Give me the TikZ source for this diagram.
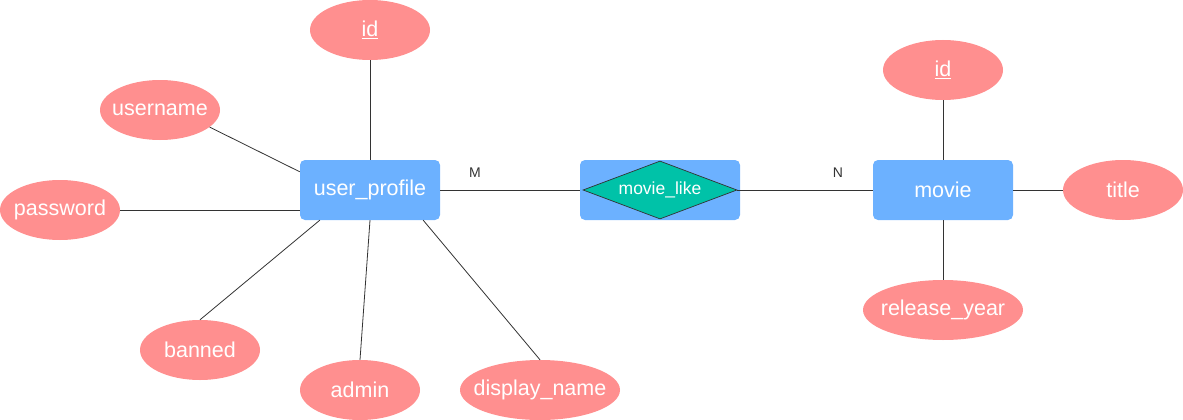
\documentclass[tikz,border=0pt]{standalone}
\usepackage{fontspec}
\setmainfont{Liberation Sans}
\usetikzlibrary{shapes.geometric}
\definecolor{attr}{HTML}{FF8F8F}
\definecolor{ent}{HTML}{6CB1FF}
\definecolor{rel}{HTML}{00C2A8}
\definecolor{ln}{HTML}{333333}
\tikzset{
  attrnode/.style={ellipse, fill=attr, minimum width=120pt, minimum height=60pt, inner xsep=-30pt, inner ysep=0pt, text=white, font=\fontsize{21.5}{24}\selectfont},
  wideattr/.style={attrnode, minimum width=160pt},
  entnode/.style={rectangle, rounded corners=5pt, fill=ent, minimum width=140pt, minimum height=60pt, inner sep=0pt, text=white, font=\fontsize{21.5}{24}\selectfont},
  relbox/.style={rectangle, rounded corners=5pt, fill=ent, minimum width=160pt, minimum height=60pt, inner sep=0pt},
  reldia/.style={diamond, aspect=2.65, fill=rel, draw=ln, line width=0.7pt, minimum width=154pt, minimum height=58pt, inner sep=0pt, text=white, font=\fontsize{17.5}{20}\selectfont},
  conn/.style={draw=ln, line width=0.8pt},
  card/.style={text=ln, font=\fontsize{14}{16}\selectfont, inner sep=0pt}
}
\begin{document}
\begin{tikzpicture}[x=1pt, y=-1pt]
\useasboundingbox (0,0) rectangle (1183,420);
% entities
\node[entnode] (up) at (370,190) {user\_profile};
\node[relbox] (mlbox) at (660,190) {};
\node[reldia] (ml) at (660,190) {movie\_like};
\node[entnode] (mv) at (943,190) {movie};
% user attributes
\node[attrnode] (uid) at (370,30) {\underline{id}};
\node[attrnode] (un) at (160,110) {username};
\node[attrnode] (pw) at (60,210) {password};
\node[attrnode] (bn) at (200,350) {banned};
\node[attrnode] (ad) at (360,390) {admin};
\node[wideattr] (dn) at (540,390) {display\_name};
% movie attributes
\node[attrnode] (mid) at (943,70) {\underline{id}};
\node[attrnode] (ti) at (1123,190) {title};
\node[wideattr] (ry) at (943,310) {release\_year};
% cardinalities
\node[card] (cm) at (475,173) {M};
\node[card] (cn) at (838,173) {N};
% connectors
\draw[conn] (uid.south) -- (up.north);
\draw[conn] (un.-19) -- ([yshift=-12pt]up.north west);
\draw[conn] (pw.east) -- (pw.east -| up.west);
\draw[conn] (bn.north) -- ([xshift=20pt]up.south west);
\draw[conn] (ad.north) -- (up.south);
\draw[conn] (dn.north) -- ([xshift=-17pt]up.south east);
\draw[conn] (up.east) -- (mlbox.west);
\draw[conn] (ml.east) -- (mv.west);
\draw[conn] (mid.south) -- (mv.north);
\draw[conn] (mv.east) -- (ti.west);
\draw[conn] (mv.south) -- (ry.north);
\end{tikzpicture}
\end{document}
